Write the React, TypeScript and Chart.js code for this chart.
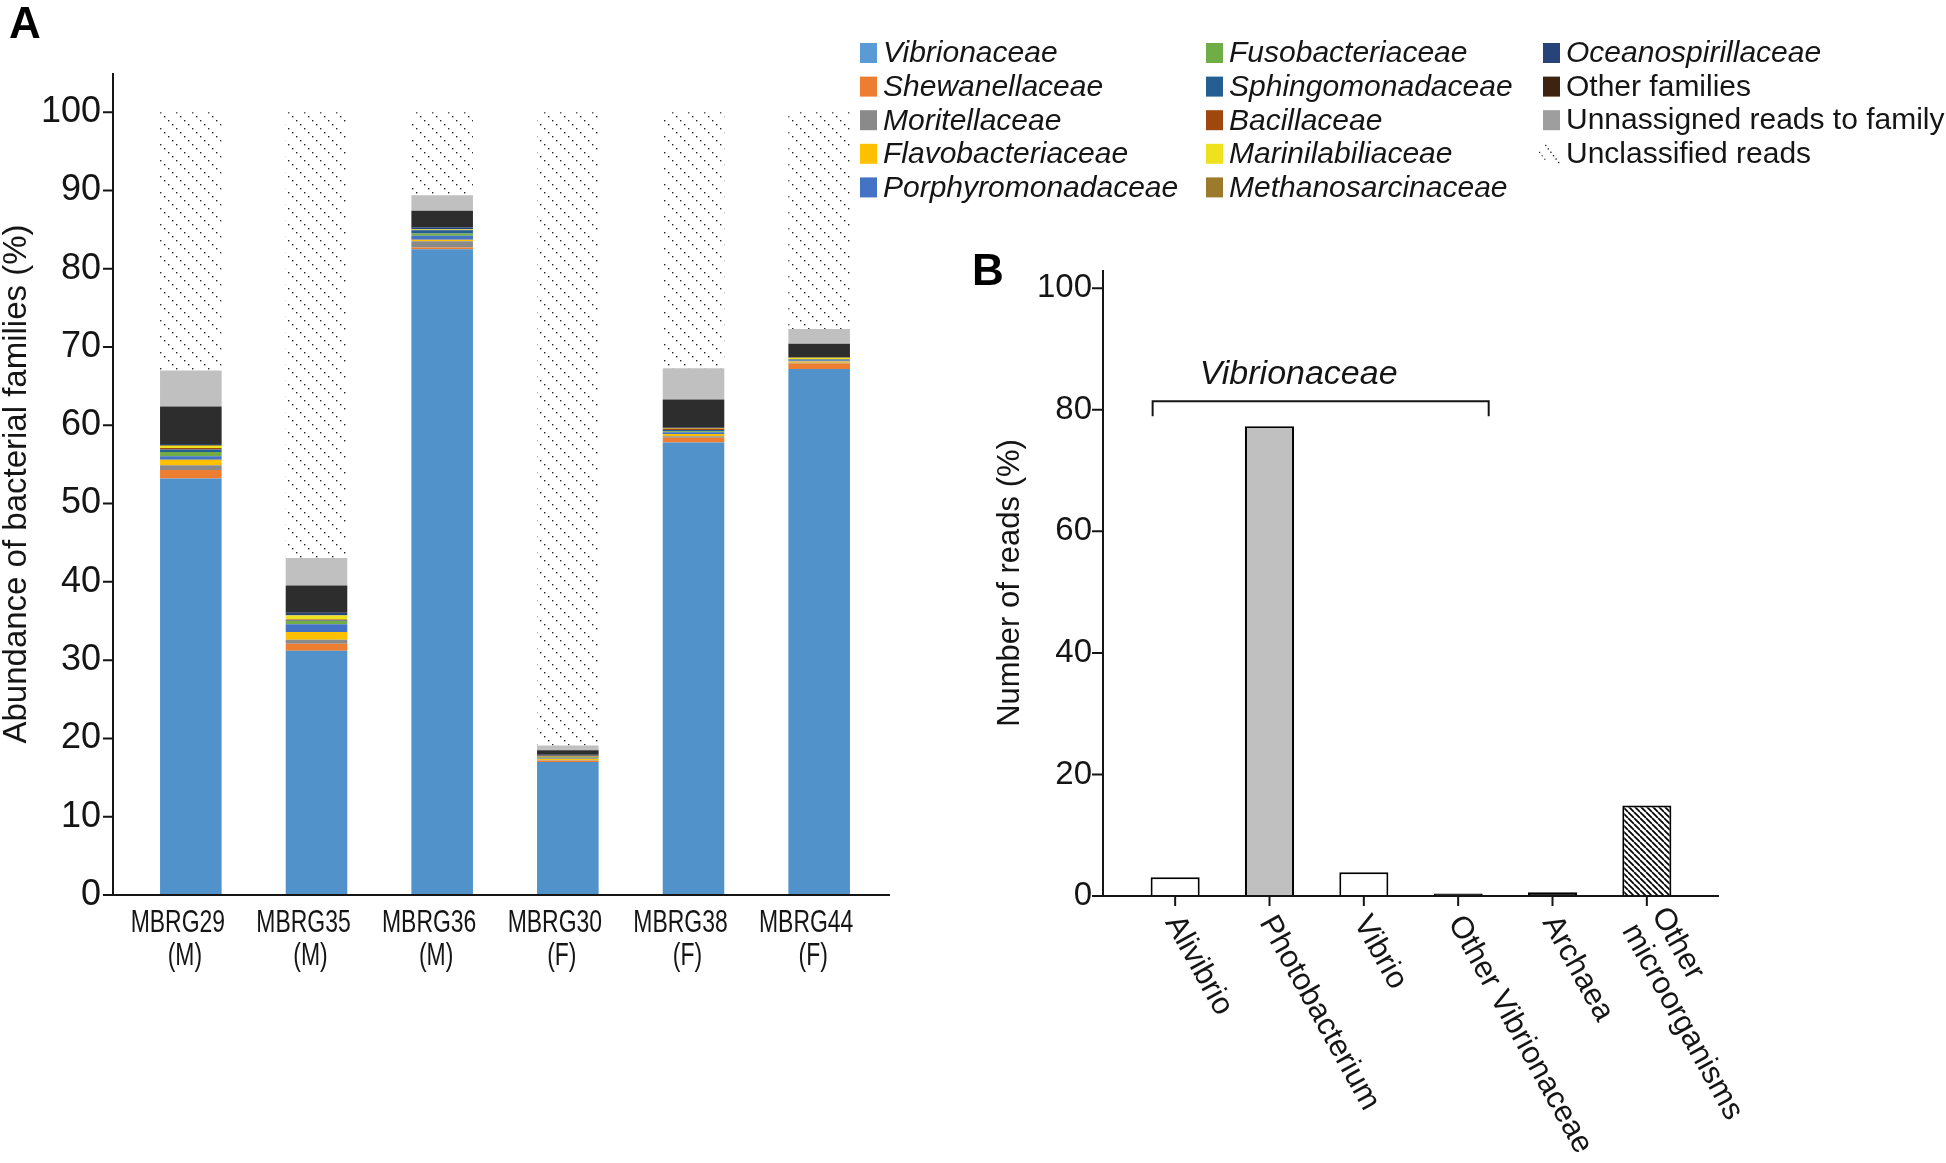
import React, { useEffect, useRef } from "react";
import { Chart, registerables } from "chart.js";

Chart.register(...registerables);

// ---------- Panel A data ----------
const sampleIds = ["MBRG29", "MBRG35", "MBRG36", "MBRG30", "MBRG38", "MBRG44"];
const sampleSex = ["(M)", "(M)", "(M)", "(F)", "(F)", "(F)"];

const vibrionaceae = [53.2, 31.2, 82.5, 17.0, 57.8, 67.2];
const shewanellaceae = [1.1, 0.9, 0.2, 0.15, 0.6, 0.7];
const moritellaceae = [0.6, 0.5, 0.8, 0.05, 0.2, 0.1];
const flavobacteriaceae = [0.7, 1.0, 0.2, 0.2, 0.3, 0.15];
const porphyromonadaceae = [0.45, 1.0, 0.5, 0.1, 0.2, 0.15];
const fusobacteriaceae = [0.55, 0.4, 0.3, 0.05, 0.15, 0.05];
const sphingomonadaceae = [0.3, 0.05, 0.4, 0.05, 0.15, 0.05];
const bacillaceae = [0.2, 0.15, 0.05, 0.1, 0.15, 0.05];
const marinilabiliaceae = [0.25, 0.5, 0.05, 0.05, 0.05, 0.15];
const methanosarcinaceae = [0.1, 0.05, 0.05, 0.05, 0.05, 0.05];
const oceanospirillaceae = [0.15, 0.3, 0.25, 0.1, 0.05, 0.05];
const otherFamilies = [4.8, 3.5, 2.1, 0.6, 3.6, 1.7];
const unassignedReads = [4.6, 3.5, 2.0, 0.6, 4.0, 1.9];
const unclassifiedReads = [33.0, 56.95, 10.6, 80.9, 32.7, 27.7];

const familyNames = [
  "Vibrionaceae",
  "Shewanellaceae",
  "Moritellaceae",
  "Flavobacteriaceae",
  "Porphyromonadaceae",
  "Fusobacteriaceae",
  "Sphingomonadaceae",
  "Bacillaceae",
  "Marinilabiliaceae",
  "Methanosarcinaceae",
  "Oceanospirillaceae",
  "Other families",
  "Unnassigned reads to family",
  "Unclassified reads",
];
const familyItalic = [true, true, true, true, true, true, true, true, true, true, true, false, false, false];
const barFill = [
  "#5292cb", "#ed7d31", "#8a8a8a", "#ffc000", "#4472c4", "#70ad47", "#255e91",
  "#9e480e", "#ede21d", "#997300", "#264478", "#2d2d2d", "#c0c0c0", "PATTERN",
];
const legendSwatch = [
  "#5b9bd5", "#ed7d31", "#8a8a8a", "#ffc000", "#4472c4", "#70ad47", "#255e91",
  "#9e480e", "#ede21d", "#9c7a2b", "#264478", "#3e2410", "#9e9e9e", "PATTERN",
];
const seriesA = [
  vibrionaceae, shewanellaceae, moritellaceae, flavobacteriaceae, porphyromonadaceae,
  fusobacteriaceae, sphingomonadaceae, bacillaceae, marinilabiliaceae, methanosarcinaceae,
  oceanospirillaceae, otherFamilies, unassignedReads, unclassifiedReads,
];

// ---------- Panel B data ----------
const genusLabels = ["Alivibrio", "Photobacterium", "Vibrio", "Other Vibrionaceae", "Archaea", "Other microorganisms"];
const genusLabelLines = [["Alivibrio"], ["Photobacterium"], ["Vibrio"], ["Other Vibrionaceae"], ["Archaea"], ["Other", "microorganisms"]];
const readPercent = [3.1, 77.3, 3.9, 0.4, 0.6, 14.9];
const readFill = ["#ffffff", "#c0c0c0", "#ffffff", "#000000", "#000000", "HATCH"];
const bracketLabel = "Vibrionaceae";
const bracketFrom = 0;
const bracketTo = 3;
const bracketValue = 81.4;

const SANS = '"Liberation Sans", Arial, Helvetica, sans-serif';
const INK = "#151515";

function makeDotPattern(): CanvasPattern {
  const c = document.createElement("canvas");
  c.width = 16;
  c.height = 16;
  const g = c.getContext("2d")!;
  g.fillStyle = "#ffffff";
  g.fillRect(0, 0, 16, 16);
  g.fillStyle = "#222222";
  for (let i = 0; i < 4; i++) g.fillRect(i * 4, i * 4, 1.4, 1.4);
  return g.createPattern(c, "repeat")!;
}

function makeHatchPattern(): CanvasPattern {
  const s = 6;
  const c = document.createElement("canvas");
  c.width = s;
  c.height = s;
  const g = c.getContext("2d")!;
  g.fillStyle = "#ffffff";
  g.fillRect(0, 0, s, s);
  g.strokeStyle = "#000000";
  g.lineWidth = 1.7;
  g.beginPath();
  for (const o of [-s, 0, s]) {
    g.moveTo(o, 0);
    g.lineTo(o + s, s);
  }
  g.stroke();
  return g.createPattern(c, "repeat")!;
}

const customAxes = {
  id: "customAxes",
  afterDraw(chart: any, _args: any, opts: any) {
    const { ctx, chartArea, scales } = chart;
    const y = scales.y;
    const x = scales.x;
    const ax = chartArea.left - opts.gap;
    ctx.save();
    ctx.strokeStyle = INK;
    ctx.lineWidth = opts.lineWidth;
    ctx.beginPath();
    ctx.moveTo(ax, chartArea.top);
    ctx.lineTo(ax, chartArea.bottom);
    ctx.moveTo(ax - opts.lineWidth / 2, chartArea.bottom);
    ctx.lineTo(opts.xEnd, chartArea.bottom);
    y.ticks.forEach((t: any) => {
      const py = y.getPixelForValue(t.value);
      ctx.moveTo(ax - opts.tickLen, py);
      ctx.lineTo(ax, py);
    });
    if (opts.xTicks) {
      x.ticks.forEach((_t: any, i: number) => {
        const px = x.getPixelForTick(i);
        ctx.moveTo(px, chartArea.bottom);
        ctx.lineTo(px, chartArea.bottom + opts.xTickLen);
      });
    }
    ctx.stroke();
    ctx.restore();
  },
};

const panelAExtras = {
  id: "panelAExtras",
  afterDraw(chart: any, _args: any, opts: any) {
    const { ctx, chartArea, scales } = chart;
    const x = scales.x;
    ctx.save();
    // condensed two-line sample labels (slightly left of bar centres, as in the figure)
    ctx.fillStyle = INK;
    ctx.font = `31px ${SANS}`;
    ctx.textAlign = "center";
    ctx.textBaseline = "middle";
    const shift = [-13, -6];
    const labels = chart.data.labels as string[][];
    labels.forEach((lines, i) => {
      const px = x.getPixelForTick(i);
      lines.forEach((line, j) => {
        ctx.save();
        ctx.translate(px + shift[j], chartArea.bottom + 28 + j * 33);
        ctx.scale(0.74, 1);
        ctx.fillText(line, 0, 0);
        ctx.restore();
      });
    });
    // legend
    const colX = [860, 1206, 1543];
    ctx.textBaseline = "middle";
    ctx.textAlign = "left";
    familyNames.forEach((name, i) => {
      const col = Math.floor(i / 5);
      const row = i % 5;
      const sx = colX[col];
      const cy = 53 + row * 33.6;
      if (legendSwatch[i] === "PATTERN") {
        ctx.fillStyle = "#333";
        for (let k = 0; k < 6; k++) ctx.fillRect(sx + 2 + k * 2.6, cy - 9 + k * 3.4, 1.4, 1.4);
        for (let k = 0; k < 3; k++) ctx.fillRect(sx - 4 + k * 2.6, cy - 2 + k * 3.4, 1.2, 1.2);
      } else {
        ctx.fillStyle = legendSwatch[i];
        ctx.fillRect(sx, cy - 10, 17, 20);
      }
      ctx.fillStyle = INK;
      ctx.font = `${familyItalic[i] ? "italic " : ""}30px ${SANS}`;
      ctx.fillText(name, sx + 23, cy + 1);
    });
    // panel letter
    ctx.font = `bold 44px ${SANS}`;
    ctx.textBaseline = "alphabetic";
    ctx.fillStyle = "#000";
    ctx.fillText(opts.panel, 9, 38);
    ctx.restore();
  },
};

const panelBExtras = {
  id: "panelBExtras",
  afterDraw(chart: any, _args: any, opts: any) {
    const { ctx, chartArea, scales } = chart;
    const x = scales.x;
    const y = scales.y;
    const meta = chart.getDatasetMeta(0);
    ctx.save();
    // rotated category labels
    const ang = (61 * Math.PI) / 180;
    const lh = 34;
    ctx.fillStyle = INK;
    ctx.font = `31px ${SANS}`;
    ctx.textAlign = "left";
    ctx.textBaseline = "middle";
    genusLabelLines.forEach((lines, i) => {
      const px = x.getPixelForTick(i) - 3;
      const py = chartArea.bottom + 22;
      const n = lines.length;
      lines.forEach((line, j) => {
        const off = ((n - 1) / 2 - j) * lh;
        ctx.save();
        ctx.translate(px, py);
        ctx.rotate(ang);
        ctx.fillText(line, 0, -off);
        ctx.restore();
      });
    });
    // bracket
    const b0 = meta.data[bracketFrom];
    const b1 = meta.data[bracketTo];
    const xl = b0.x - b0.width / 2 + 2;
    const xr = b1.x + b1.width / 2 + 6;
    const by = y.getPixelForValue(bracketValue);
    const drop = 15;
    ctx.strokeStyle = INK;
    ctx.lineWidth = 2;
    ctx.beginPath();
    ctx.moveTo(xl, by + drop);
    ctx.lineTo(xl, by);
    ctx.lineTo(xr, by);
    ctx.lineTo(xr, by + drop);
    ctx.stroke();
    ctx.font = `italic 34px ${SANS}`;
    ctx.textAlign = "center";
    ctx.textBaseline = "middle";
    ctx.fillText(bracketLabel, (xl + xr) / 2 - 22, by - 27);
    // panel letter
    ctx.font = `bold 44px ${SANS}`;
    ctx.textAlign = "left";
    ctx.textBaseline = "alphabetic";
    ctx.fillStyle = "#000";
    ctx.fillText(opts.panel, 22, 85);
    ctx.restore();
  },
};

export default function App() {
  const refA = useRef<HTMLCanvasElement | null>(null);
  const refB = useRef<HTMLCanvasElement | null>(null);

  useEffect(() => {
    Chart.defaults.font.family = SANS;
    Chart.defaults.color = INK;
    const dots = makeDotPattern();
    const hatch = makeHatchPattern();

    const chartA = new Chart(refA.current!, {
      type: "bar",
      data: {
        labels: sampleIds.map((id, i) => [id, sampleSex[i]]),
        datasets: familyNames.map((name, i) => ({
          label: name,
          data: seriesA[i],
          backgroundColor: barFill[i] === "PATTERN" ? (dots as any) : barFill[i],
          borderWidth: 0,
          categoryPercentage: 1,
          barPercentage: 0.49,
        })),
      },
      options: {
        responsive: false,
        animation: false,
        layout: { padding: { left: 0, top: 73, right: 1064, bottom: 0 } },
        plugins: {
          legend: { display: false },
          tooltip: { enabled: false },
          customAxes: { gap: 15, lineWidth: 2, tickLen: 10, xEnd: 890, xTicks: false },
          panelAExtras: { panel: "A" },
        } as any,
        scales: {
          x: {
            stacked: true,
            grid: { display: false, drawTicks: false },
            border: { display: false },
            ticks: { display: false },
            afterFit: (s: any) => {
              s.height = 268;
            },
          },
          y: {
            stacked: true,
            min: 0,
            max: 105,
            grid: { display: false, drawTicks: false },
            border: { display: false },
            ticks: { stepSize: 10, includeBounds: false, color: INK, font: { size: 36 }, padding: 27 },
            title: {
              display: true,
              text: "Abundance of bacterial families (%)",
              color: INK,
              font: { size: 33, lineHeight: 1 },
              padding: { top: 0, bottom: 0 },
            },
            afterFit: (s: any) => {
              s.width = 128;
            },
          },
        },
      },
      plugins: [customAxes, panelAExtras],
    });

    const chartB = new Chart(refB.current!, {
      type: "bar",
      data: {
        labels: genusLabels,
        datasets: [
          {
            label: "Number of reads (%)",
            data: readPercent,
            backgroundColor: readFill.map((f) => (f === "HATCH" ? (hatch as any) : f)),
            borderColor: "#000000",
            borderWidth: 2,
            categoryPercentage: 1,
            barPercentage: 0.52,
          },
        ],
      },
      options: {
        responsive: false,
        animation: false,
        layout: { padding: { left: 0, top: 70, right: 252, bottom: 0 } },
        plugins: {
          legend: { display: false },
          tooltip: { enabled: false },
          customAxes: { gap: 25, lineWidth: 2, tickLen: 11, xEnd: 769, xTicks: true, xTickLen: 10 },
          panelBExtras: { panel: "B" },
        } as any,
        scales: {
          x: {
            grid: { display: false, drawTicks: false },
            border: { display: false },
            ticks: { display: false },
            afterFit: (s: any) => {
              s.height = 267;
            },
          },
          y: {
            min: 0,
            max: 103,
            grid: { display: false, drawTicks: false },
            border: { display: false },
            ticks: { stepSize: 20, includeBounds: false, color: INK, font: { size: 33 }, padding: 36 },
            title: {
              display: true,
              text: "Number of reads (%)",
              color: INK,
              font: { size: 31, lineHeight: 1 },
              padding: { top: 45, bottom: 0 },
            },
            afterFit: (s: any) => {
              s.width = 178;
            },
          },
        },
      },
      plugins: [customAxes, panelBExtras],
    });

    return () => {
      chartA.destroy();
      chartB.destroy();
    };
  }, []);

  return (
    <div style={{ position: "absolute", left: 0, top: 0, width: 1946, height: 1163, background: "#ffffff", overflow: "hidden" }}>
      <canvas ref={refA} width={1946} height={1163} style={{ position: "absolute", left: 0, top: 0 }} />
      <canvas ref={refB} width={996} height={963} style={{ position: "absolute", left: 950, top: 200 }} />
    </div>
  );
}
